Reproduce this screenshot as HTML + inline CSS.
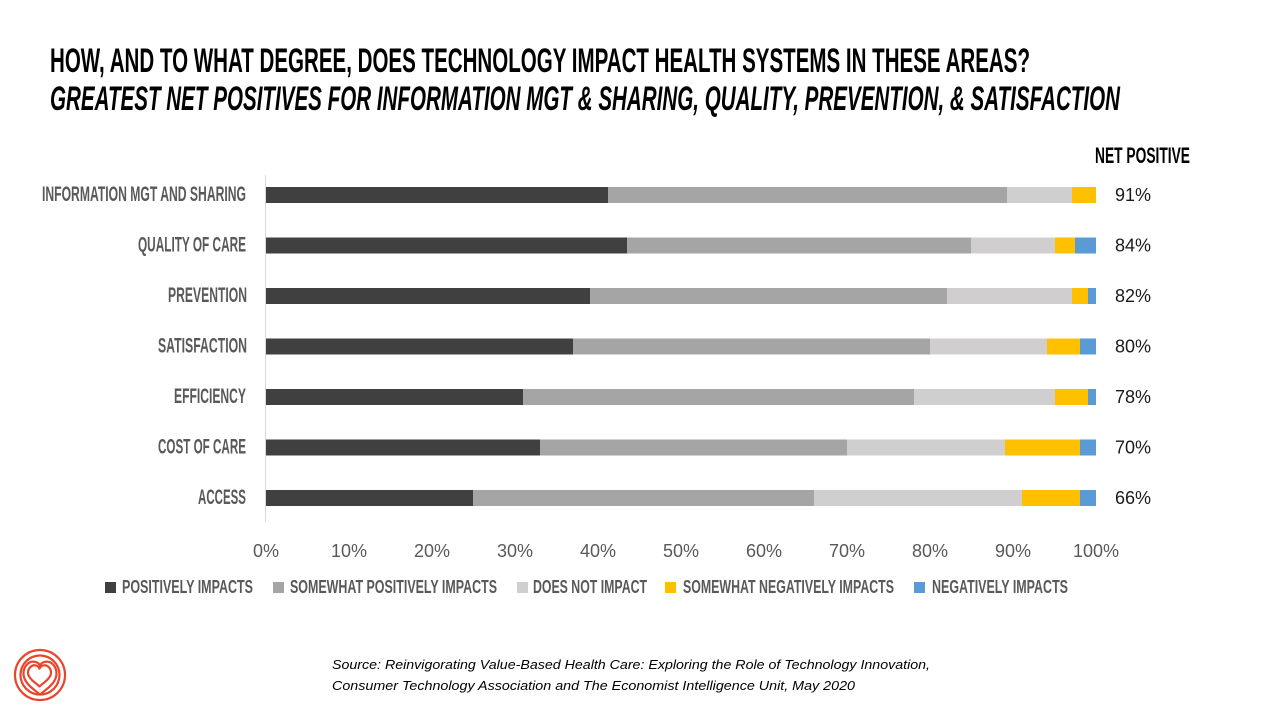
<!DOCTYPE html>
<html>
<head>
<meta charset="utf-8">
<style>
  html, body { margin: 0; padding: 0; background: #ffffff; }
  svg { display: block; }
  .cond { font-family: "Liberation Sans", "DejaVu Sans", sans-serif; font-weight: bold; }
  .num { font-family: "Liberation Sans", "DejaVu Sans", sans-serif; }
</style>
</head>
<body>
<svg width="1280" height="720" viewBox="0 0 1280 720" xmlns="http://www.w3.org/2000/svg">
  <rect x="0" y="0" width="1280" height="720" fill="#ffffff"/>

  <!-- Title -->
  <text class="cond" x="50" y="72" font-size="34" fill="#000000" textLength="980" lengthAdjust="spacingAndGlyphs">HOW, AND TO WHAT DEGREE, DOES TECHNOLOGY IMPACT HEALTH SYSTEMS IN THESE AREAS?</text>
  <text class="cond" x="50" y="110" font-size="34" font-style="italic" fill="#000000" textLength="1070" lengthAdjust="spacingAndGlyphs">GREATEST NET POSITIVES FOR INFORMATION MGT &amp; SHARING, QUALITY,  PREVENTION, &amp; SATISFACTION</text>

  <!-- Net positive header -->
  <text class="cond" x="1095" y="163" font-size="22" fill="#000000" textLength="95" lengthAdjust="spacingAndGlyphs">NET POSITIVE</text>

  <!-- Axis line -->
  <line x1="265.5" y1="175" x2="265.5" y2="522" stroke="#d9d9d9" stroke-width="1"/>

  <!-- Row 1 -->
  <g>
    <rect x="266" y="187" width="342" height="16" fill="#404040"/>
    <rect x="608" y="187" width="399" height="16" fill="#a5a5a5"/>
    <rect x="1007" y="187" width="65" height="16" fill="#d0cece"/>
    <rect x="1072" y="187" width="24" height="16" fill="#ffc000"/>
    <text class="cond" x="42" y="201" font-size="21" fill="#595959" textLength="204" lengthAdjust="spacingAndGlyphs">INFORMATION MGT AND SHARING</text>
    <text class="num" x="1115" y="201" font-size="18" fill="#1a1a1a">91%</text>
  </g>
  <!-- Row 2 -->
  <g>
    <rect x="266" y="237.5" width="361" height="16" fill="#404040"/>
    <rect x="627" y="237.5" width="344" height="16" fill="#a5a5a5"/>
    <rect x="971" y="237.5" width="84" height="16" fill="#d0cece"/>
    <rect x="1055" y="237.5" width="20" height="16" fill="#ffc000"/>
    <rect x="1075" y="237.5" width="21" height="16" fill="#5b9bd5"/>
    <text class="cond" x="138" y="251.5" font-size="21" fill="#595959" textLength="108" lengthAdjust="spacingAndGlyphs">QUALITY OF CARE</text>
    <text class="num" x="1115" y="251.5" font-size="18" fill="#1a1a1a">84%</text>
  </g>
  <!-- Row 3 -->
  <g>
    <rect x="266" y="288" width="324" height="16" fill="#404040"/>
    <rect x="590" y="288" width="357" height="16" fill="#a5a5a5"/>
    <rect x="947" y="288" width="125" height="16" fill="#d0cece"/>
    <rect x="1072" y="288" width="16" height="16" fill="#ffc000"/>
    <rect x="1088" y="288" width="8" height="16" fill="#5b9bd5"/>
    <text class="cond" x="168" y="302" font-size="21" fill="#595959" textLength="79" lengthAdjust="spacingAndGlyphs">PREVENTION</text>
    <text class="num" x="1115" y="302" font-size="18" fill="#1a1a1a">82%</text>
  </g>
  <!-- Row 4 -->
  <g>
    <rect x="266" y="338.5" width="307" height="16" fill="#404040"/>
    <rect x="573" y="338.5" width="357" height="16" fill="#a5a5a5"/>
    <rect x="930" y="338.5" width="117" height="16" fill="#d0cece"/>
    <rect x="1047" y="338.5" width="33" height="16" fill="#ffc000"/>
    <rect x="1080" y="338.5" width="16" height="16" fill="#5b9bd5"/>
    <text class="cond" x="158" y="352.5" font-size="21" fill="#595959" textLength="89" lengthAdjust="spacingAndGlyphs">SATISFACTION</text>
    <text class="num" x="1115" y="352.5" font-size="18" fill="#1a1a1a">80%</text>
  </g>
  <!-- Row 5 -->
  <g>
    <rect x="266" y="389" width="257" height="16" fill="#404040"/>
    <rect x="523" y="389" width="391" height="16" fill="#a5a5a5"/>
    <rect x="914" y="389" width="141" height="16" fill="#d0cece"/>
    <rect x="1055" y="389" width="33" height="16" fill="#ffc000"/>
    <rect x="1088" y="389" width="8" height="16" fill="#5b9bd5"/>
    <text class="cond" x="174" y="403" font-size="21" fill="#595959" textLength="72" lengthAdjust="spacingAndGlyphs">EFFICIENCY</text>
    <text class="num" x="1115" y="403" font-size="18" fill="#1a1a1a">78%</text>
  </g>
  <!-- Row 6 -->
  <g>
    <rect x="266" y="439.5" width="274" height="16" fill="#404040"/>
    <rect x="540" y="439.5" width="307" height="16" fill="#a5a5a5"/>
    <rect x="847" y="439.5" width="158" height="16" fill="#d0cece"/>
    <rect x="1005" y="439.5" width="75" height="16" fill="#ffc000"/>
    <rect x="1080" y="439.5" width="16" height="16" fill="#5b9bd5"/>
    <text class="cond" x="158" y="453.5" font-size="21" fill="#595959" textLength="88" lengthAdjust="spacingAndGlyphs">COST OF CARE</text>
    <text class="num" x="1115" y="453.5" font-size="18" fill="#1a1a1a">70%</text>
  </g>
  <!-- Row 7 -->
  <g>
    <rect x="266" y="490" width="207" height="16" fill="#404040"/>
    <rect x="473" y="490" width="341" height="16" fill="#a5a5a5"/>
    <rect x="814" y="490" width="208" height="16" fill="#d0cece"/>
    <rect x="1022" y="490" width="58" height="16" fill="#ffc000"/>
    <rect x="1080" y="490" width="16" height="16" fill="#5b9bd5"/>
    <text class="cond" x="198" y="504" font-size="21" fill="#595959" textLength="48" lengthAdjust="spacingAndGlyphs">ACCESS</text>
    <text class="num" x="1115" y="504" font-size="18" fill="#1a1a1a">66%</text>
  </g>

  <!-- X axis tick labels -->
  <g class="num" font-size="18" fill="#595959" text-anchor="middle">
    <text x="266" y="557">0%</text>
    <text x="349" y="557">10%</text>
    <text x="432" y="557">20%</text>
    <text x="515" y="557">30%</text>
    <text x="598" y="557">40%</text>
    <text x="681" y="557">50%</text>
    <text x="764" y="557">60%</text>
    <text x="847" y="557">70%</text>
    <text x="930" y="557">80%</text>
    <text x="1013" y="557">90%</text>
    <text x="1096" y="557">100%</text>
  </g>

  <!-- Legend -->
  <g>
    <rect x="105" y="582" width="11" height="11" fill="#404040"/>
    <text class="cond" x="122" y="593" font-size="18" fill="#595959" textLength="131" lengthAdjust="spacingAndGlyphs">POSITIVELY IMPACTS</text>
    <rect x="273" y="582" width="11" height="11" fill="#a5a5a5"/>
    <text class="cond" x="290" y="593" font-size="18" fill="#595959" textLength="207" lengthAdjust="spacingAndGlyphs">SOMEWHAT POSITIVELY IMPACTS</text>
    <rect x="517" y="582" width="11" height="11" fill="#d0cece"/>
    <text class="cond" x="533" y="593" font-size="18" fill="#595959" textLength="114" lengthAdjust="spacingAndGlyphs">DOES NOT IMPACT</text>
    <rect x="665" y="582" width="11" height="11" fill="#ffc000"/>
    <text class="cond" x="683" y="593" font-size="18" fill="#595959" textLength="211" lengthAdjust="spacingAndGlyphs">SOMEWHAT NEGATIVELY IMPACTS</text>
    <rect x="914" y="582" width="11" height="11" fill="#5b9bd5"/>
    <text class="cond" x="932" y="593" font-size="18" fill="#595959" textLength="136" lengthAdjust="spacingAndGlyphs">NEGATIVELY IMPACTS</text>
  </g>

  <!-- Logo -->
  <g fill="none" stroke="#e8452c" stroke-width="2.2" stroke-linejoin="round">
    <circle cx="40" cy="675" r="25"/>
    <circle cx="40" cy="675" r="19.5"/>
    <path transform="translate(40,676) scale(16.5,16)" vector-effect="non-scaling-stroke"
          d="M 0 1.15 C -0.35 0.85 -1 0.45 -1 -0.15 C -1 -0.6 -0.7 -0.9 -0.42 -0.9 C -0.2 -0.9 -0.05 -0.78 0 -0.65 C 0.05 -0.78 0.2 -0.9 0.42 -0.9 C 0.7 -0.9 1 -0.6 1 -0.15 C 1 0.45 0.35 0.85 0 1.15 Z"/>
    <path transform="translate(39.5,675) scale(11.5,11.5)" vector-effect="non-scaling-stroke"
          d="M 0 1 C -0.3 0.7 -1 0.3 -1 -0.2 C -1 -0.6 -0.7 -0.85 -0.45 -0.85 C -0.2 -0.85 -0.05 -0.7 0 -0.55 C 0.05 -0.7 0.2 -0.85 0.45 -0.85 C 0.7 -0.85 1 -0.6 1 -0.2 C 1 0.3 0.3 0.7 0 1 Z"/>
  </g>

  <!-- Source -->
  <text class="num" x="332" y="669" font-size="13" font-style="italic" fill="#000000" textLength="598" lengthAdjust="spacingAndGlyphs">Source: Reinvigorating Value-Based Health Care: Exploring the Role of Technology Innovation,</text>
  <text class="num" x="332" y="690" font-size="13" font-style="italic" fill="#000000" textLength="523" lengthAdjust="spacingAndGlyphs">Consumer Technology Association and The Economist Intelligence Unit, May 2020</text>
</svg>
</body>
</html>
